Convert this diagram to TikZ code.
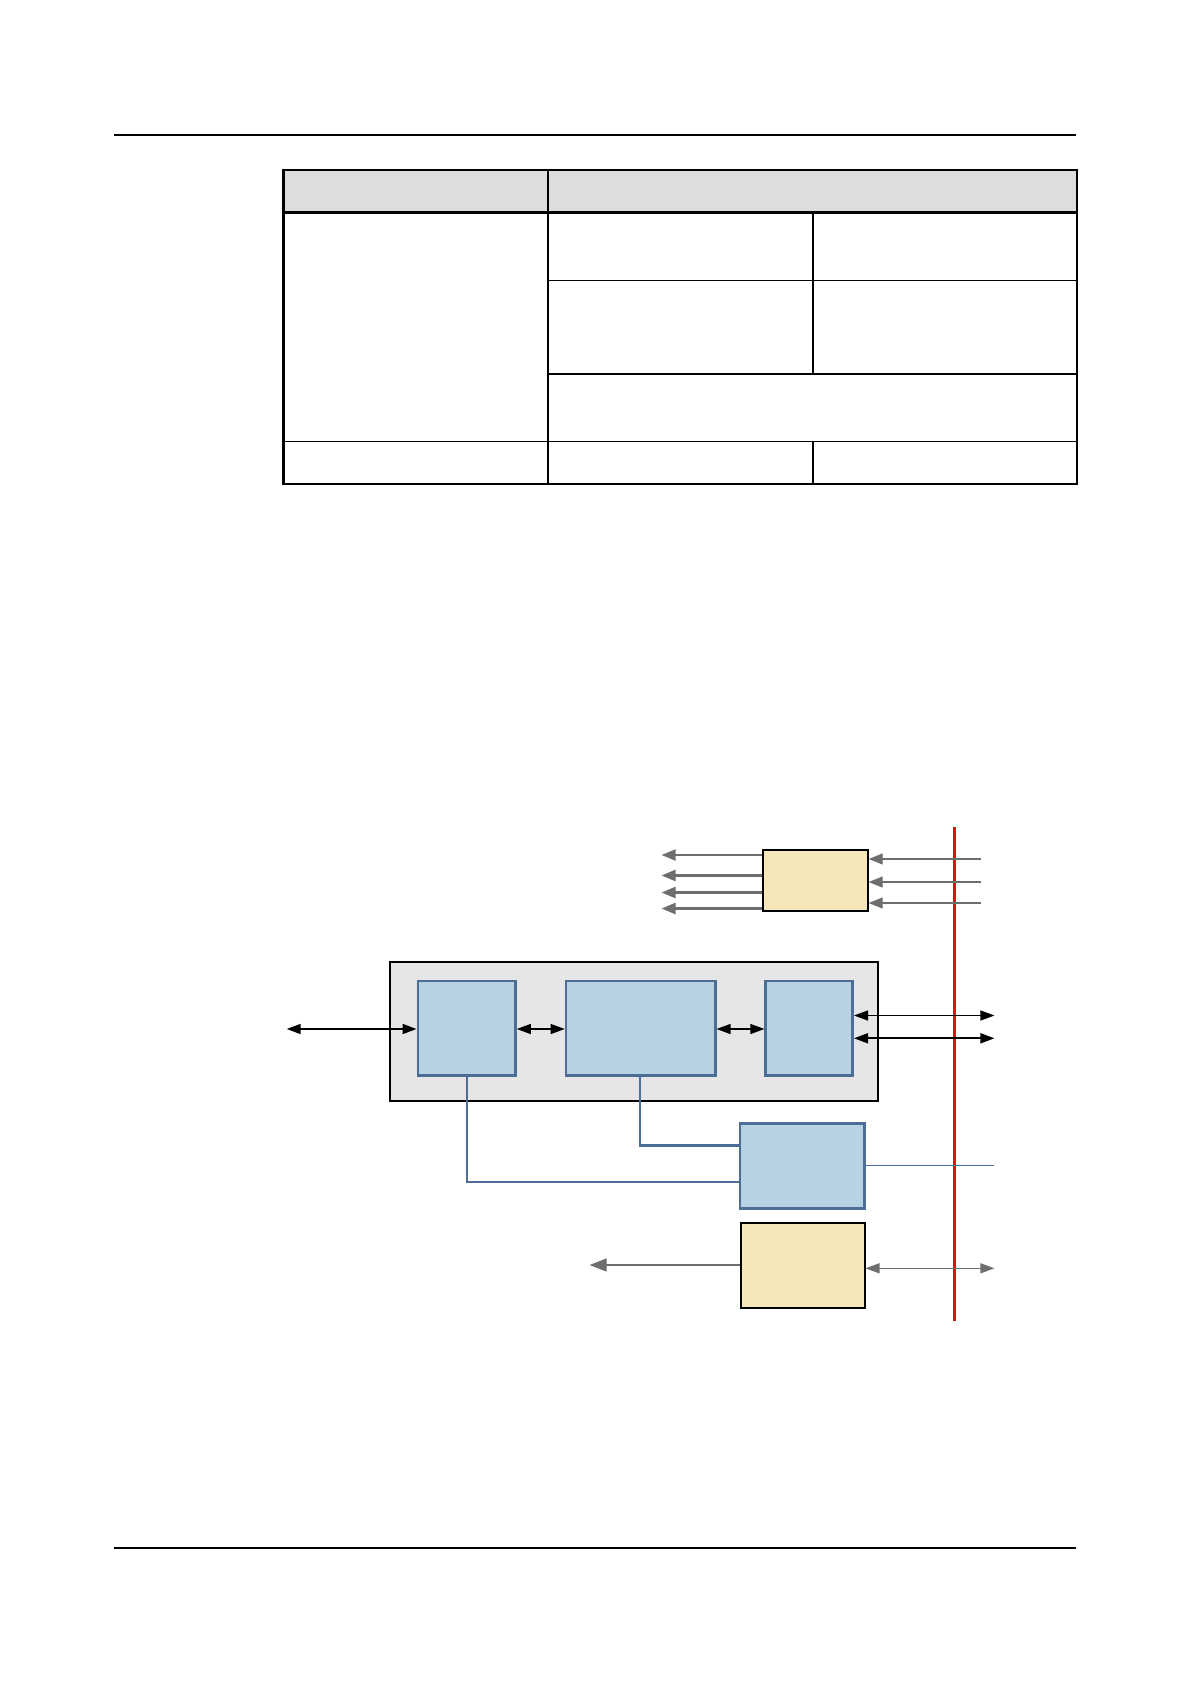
\documentclass[tikz,border=0pt]{standalone}
\usetikzlibrary{arrows.meta,fit}
\definecolor{bluef}{HTML}{B7D3E3}
\definecolor{blued}{HTML}{4A6E96}
\definecolor{yellowf}{HTML}{F5E7BA}
\definecolor{grayf}{HTML}{E6E6E6}
\definecolor{hdr}{HTML}{DDDDDD}
\definecolor{redl}{HTML}{DD1111}
\definecolor{arrg}{HTML}{6E6E6E}
\begin{document}
\begin{tikzpicture}[x=0.5pt,y=-0.5pt,
  bluebox/.style={draw=blued, fill=bluef, line width=1.3pt, inner sep=0pt},
  ybox/.style={draw=black, fill=yellowf, line width=1pt, inner sep=0pt},
  gbox/.style={draw=black, fill=grayf, line width=1pt, inner sep=0pt},
  tthin/.style={line width=0.55pt},
  tthick/.style={line width=1.1pt},
  blkarr/.style={line width=0.6pt, {Triangle[length=7pt,width=5pt]}-{Triangle[length=7pt,width=5pt]}},
  blkarrb/.style={line width=0.9pt, {Triangle[length=7pt,width=5pt]}-{Triangle[length=7pt,width=5pt]}},
  grayarr/.style={arrg, line width=1.1pt, -{Triangle[length=7pt,width=5.5pt]}},
  grayin/.style={arrg, line width=0.6pt, -{Triangle[length=7pt,width=5.5pt]}},
  graydbl/.style={arrg, line width=0.6pt, {Triangle[length=7pt,width=5pt]}-{Triangle[length=7pt,width=5pt]}},
  grayleft/.style={arrg, line width=0.6pt, -{Triangle[length=8.5pt,width=6.5pt]}},
  bline/.style={blued, line width=1.2pt},
  bthin/.style={blued, line width=0.8pt},
  redline/.style={redl, line width=1.3pt}
]
\path[use as bounding box, fill=white] (0,0) rectangle (1191,1684);

% page rules
\draw[line width=0.7pt] (114,135) -- (1076,135);
\draw[line width=0.7pt] (114,1548) -- (1076,1548);

% table
\fill[hdr] (283.5,169.7) rectangle (1077,212.6);
\draw[tthin] (547.7,280.3) -- (1077,280.3);
\draw[tthin] (813,212.6) -- (813,373.7);
\draw[tthin] (813,441.4) -- (813,484.3);
\draw[tthin] (283.5,441.4) -- (1077,441.4);
\draw[tthick] (283.5,212.6) -- (1077,212.6);
\draw[tthick] (547.7,373.7) -- (1077,373.7);
\draw[tthick] (547.7,169.7) -- (547.7,484.3);
\draw[tthick] (283.5,169.7) rectangle (1077,484.3);

% red boundary line
\coordinate (rtop) at (954.7,827);
\coordinate (rbot) at (954.7,1321);
\draw[redline] (rtop) -- (rbot);

% top yellow box
\coordinate (y1a) at (762.5,849.5);
\coordinate (y1b) at (867.7,910.7);
\node[ybox, fit=(y1a)(y1b)] (ytop) {};
\foreach \yy/\nm in {855/o1,875.5/o2,892.5/o3,908.5/o4}{
  \coordinate (\nm) at (661.5,\yy);
  \draw[grayarr] (ytop.west |- \nm) -- (\nm);
}
\foreach \yy/\nm in {859/i1,882/i2,903/i3}{
  \coordinate (\nm) at (980.5,\yy);
  \draw[grayin] (\nm) -- (ytop.east |- \nm);
}

% gray container
\coordinate (ga) at (389.8,962);
\coordinate (gb) at (878.4,1100.5);
\node[gbox, fit=(ga)(gb)] (cont) {};

% blue boxes
\coordinate (b1a) at (417.8,981);
\coordinate (b1b) at (515.5,1075.5);
\node[bluebox, fit=(b1a)(b1b)] (b1) {};
\coordinate (b2a) at (566,981);
\coordinate (b2b) at (715.2,1075.5);
\node[bluebox, fit=(b2a)(b2b)] (b2) {};
\coordinate (b3a) at (765.7,981);
\coordinate (b3b) at (852.7,1075.5);
\node[bluebox, fit=(b3a)(b3b)] (b3) {};
\coordinate (b4a) at (740,1123.3);
\coordinate (b4b) at (864.5,1208.3);
\node[bluebox, fit=(b4a)(b4b)] (b4) {};

% black arrows
\coordinate (lend) at (286.7,1029);
\draw[blkarrb] (lend) -- (b1.west |- lend);
\draw[blkarr] (b1.east |- lend) -- (b2.west |- lend);
\draw[blkarr] (b2.east |- lend) -- (b3.west |- lend);
\coordinate (r1) at (994.4,1015.5);
\coordinate (r2) at (994.4,1038.3);
\draw[blkarr] (b3.east |- r1) -- (r1);
\draw[blkarrb] (b3.east |- r2) -- (r2);

% blue connectors
\coordinate (c1) at (467,1181.7);
\coordinate (c2) at (640,1145.5);
\draw[bline] (b1.south -| c1) -- (c1) -- (b4.west |- c1);
\draw[bline] (b2.south -| c2) -- (c2) -- (b4.west |- c2);
\coordinate (c3) at (994.4,1165.5);
\draw[bthin] (b4.east |- c3) -- (c3);

% bottom yellow box
\coordinate (y2a) at (741,1222.7);
\coordinate (y2b) at (864.5,1308);
\node[ybox, fit=(y2a)(y2b)] (ybot) {};
\coordinate (ol) at (589.6,1265);
\draw[grayleft] (ybot.west |- ol) -- (ol);
\coordinate (orr) at (994.4,1268.3);
\draw[graydbl] (ybot.east |- orr) -- (orr);
\end{tikzpicture}
\end{document}
